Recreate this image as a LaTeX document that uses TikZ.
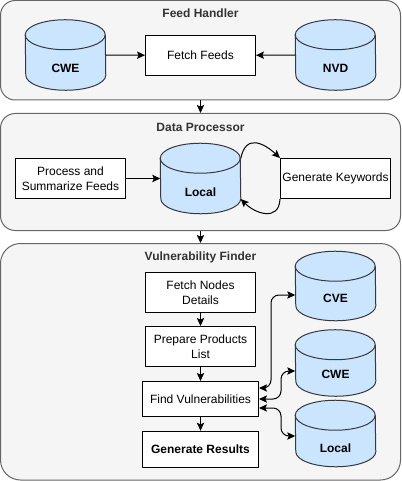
\documentclass[tikz,border=0pt]{standalone}
\usepackage{fontspec}
\setmainfont{Liberation Sans}
\usetikzlibrary{arrows.meta,calc}
\definecolor{panelfill}{HTML}{F5F5F5}
\definecolor{paneldraw}{HTML}{666666}
\definecolor{paneltext}{HTML}{333333}
\definecolor{dbfill}{HTML}{CCE5FF}
\definecolor{dbdraw}{HTML}{36393D}

\begin{document}
\begin{tikzpicture}[x=0.75pt, y=-0.75pt, >={Stealth[length=6pt,width=5.5pt,inset=1.2pt]}, line join=round]

% ------------------------------------------------
% Styles
% ------------------------------------------------
\tikzset{
    panel/.style args={#1/#2}{draw=paneldraw, fill=panelfill, line width=0.75pt, rounded corners=11pt,
        minimum width=#1*0.75pt, minimum height=#2*0.75pt, inner sep=0pt},
    ttl/.style={font=\fontsize{9}{11}\selectfont\bfseries, text=paneltext},
    stepbox/.style args={#1/#2}{draw, fill=white, line width=0.75pt, align=center, inner sep=0pt,
        font=\fontsize{9}{11.25}\selectfont, minimum width=#1*0.75pt, minimum height=#2*0.75pt},
    dbbox/.style={inner sep=0pt, minimum width=60pt, minimum height=#1*0.75pt},
    dbline/.style={draw=dbdraw, line width=0.75pt},
    dbtxt/.style={font=\fontsize{9}{11}\selectfont\bfseries},
    conn/.style={->, line width=0.75pt, black},
    both/.style={<->, line width=0.75pt, black, rounded corners=6pt},
}

\useasboundingbox (0,0) rectangle (401,481);

% ------------------------------------------------
% Panels
% ------------------------------------------------
\node[panel=400/99.5]  (feedpanel) at (200.5,50.25) {};
\node[panel=400/117]   (datapanel) at (200.5,172) {};
\node[panel=400/236.5, rounded corners=15pt] (vulnpanel) at (200.5,361.75) {};

\node[ttl] (feedttl) at (200.5,13.5)  {Feed Handler};
\node[ttl] (datattl) at (200.5,127)   {Data Processor};
\node[ttl] (vulnttl) at (200.5,257)   {Vulnerability Finder};

% ------------------------------------------------
% Cylinders
% ------------------------------------------------
\foreach \dbname/\dbx/\dby/\dbh/\dboff/\dbtext in {cwefeed/65.5/55/70/13.3/CWE, nvd/335.5/55/70/13.3/NVD,
        localdata/200.5/178.5/70/13.3/Local, cve/335.5/286/69/12.3/CVE, cwe/335.5/363/66/11/CWE,
        localvuln/335.5/433.5/66/14.5/Local}{
    \node[dbbox=\dbh] (\dbname) at (\dbx,\dby) {};
    \draw[dbline, fill=dbfill] ($(\dbname.north west)+(0,15)$)
        arc[start angle=180, end angle=0, x radius=30pt, y radius=11.25pt]
        -- ($(\dbname.south east)+(0,-15)$)
        arc[start angle=0, end angle=-180, x radius=30pt, y radius=11.25pt] -- cycle;
    \draw[dbline] ($(\dbname.north west)+(0,15)$)
        arc[start angle=180, end angle=360, x radius=30pt, y radius=11.25pt];
    \node[dbtxt] (\dbname txt) at ($(\dbname.center)+(0,\dboff)$) {\dbtext};
}

% ------------------------------------------------
% Feed Handler
% ------------------------------------------------
\node[stepbox=110/40] (fetch) at (200.5,55.5) {Fetch Feeds};

\draw[conn] (cwefeed.east) -- (fetch);
\draw[conn] (nvd.west) -- (fetch);

% ------------------------------------------------
% Data Processor
% ------------------------------------------------
\node[stepbox=110/40] (process) at (70.5,178.5) {Process and\\Summarize Feeds};
\node[stepbox=110/40] (keywords) at (335.5,178.5) {Generate Keywords};

\draw[conn] (process) -- (localdata.west);
\draw[conn] ($(localdata.east)+(0,-20)$) .. controls (246,132) and (266,145) .. (keywords.north west);
\draw[conn] (keywords.south west) .. controls (279,222) and (255,213.5) .. ($(localdata.east)+(0,20.5)$);

% ------------------------------------------------
% Vulnerability Finder
% ------------------------------------------------
\node[stepbox=110/40] (nodes)    at (200.5,292.5) {Fetch Nodes\\Details};
\node[stepbox=110/40] (products) at (200.5,346.5) {Prepare Products\\List};
\node[stepbox=116/35] (find)     at (200.5,399)   {Find Vulnerabilities};
\node[stepbox=116/36, line width=1.1pt, font=\fontsize{9}{11}\selectfont\bfseries] (results) at (200.5,449.5) {Generate Results};

\draw[conn] (nodes) -- (products);
\draw[conn] (products) -- (find);
\draw[conn] (find) -- (results);

\draw[both] ($(find.east)+(0,-11)$) -- (271,388) -- (271,295) -- (cve.west |- 0,295);
\draw[both] (find.east) -- (281,399) -- (281,371) -- (cwe.west |- 0,371);
\draw[both] ($(find.east)+(0,9)$) -- (281,408) -- (281,436) -- (localvuln.west |- 0,436);

% ------------------------------------------------
% Between the panels
% ------------------------------------------------
\draw[conn] (feedpanel) -- (datapanel);
\draw[conn] (datapanel) -- (vulnpanel);

\end{tikzpicture}
\end{document}
